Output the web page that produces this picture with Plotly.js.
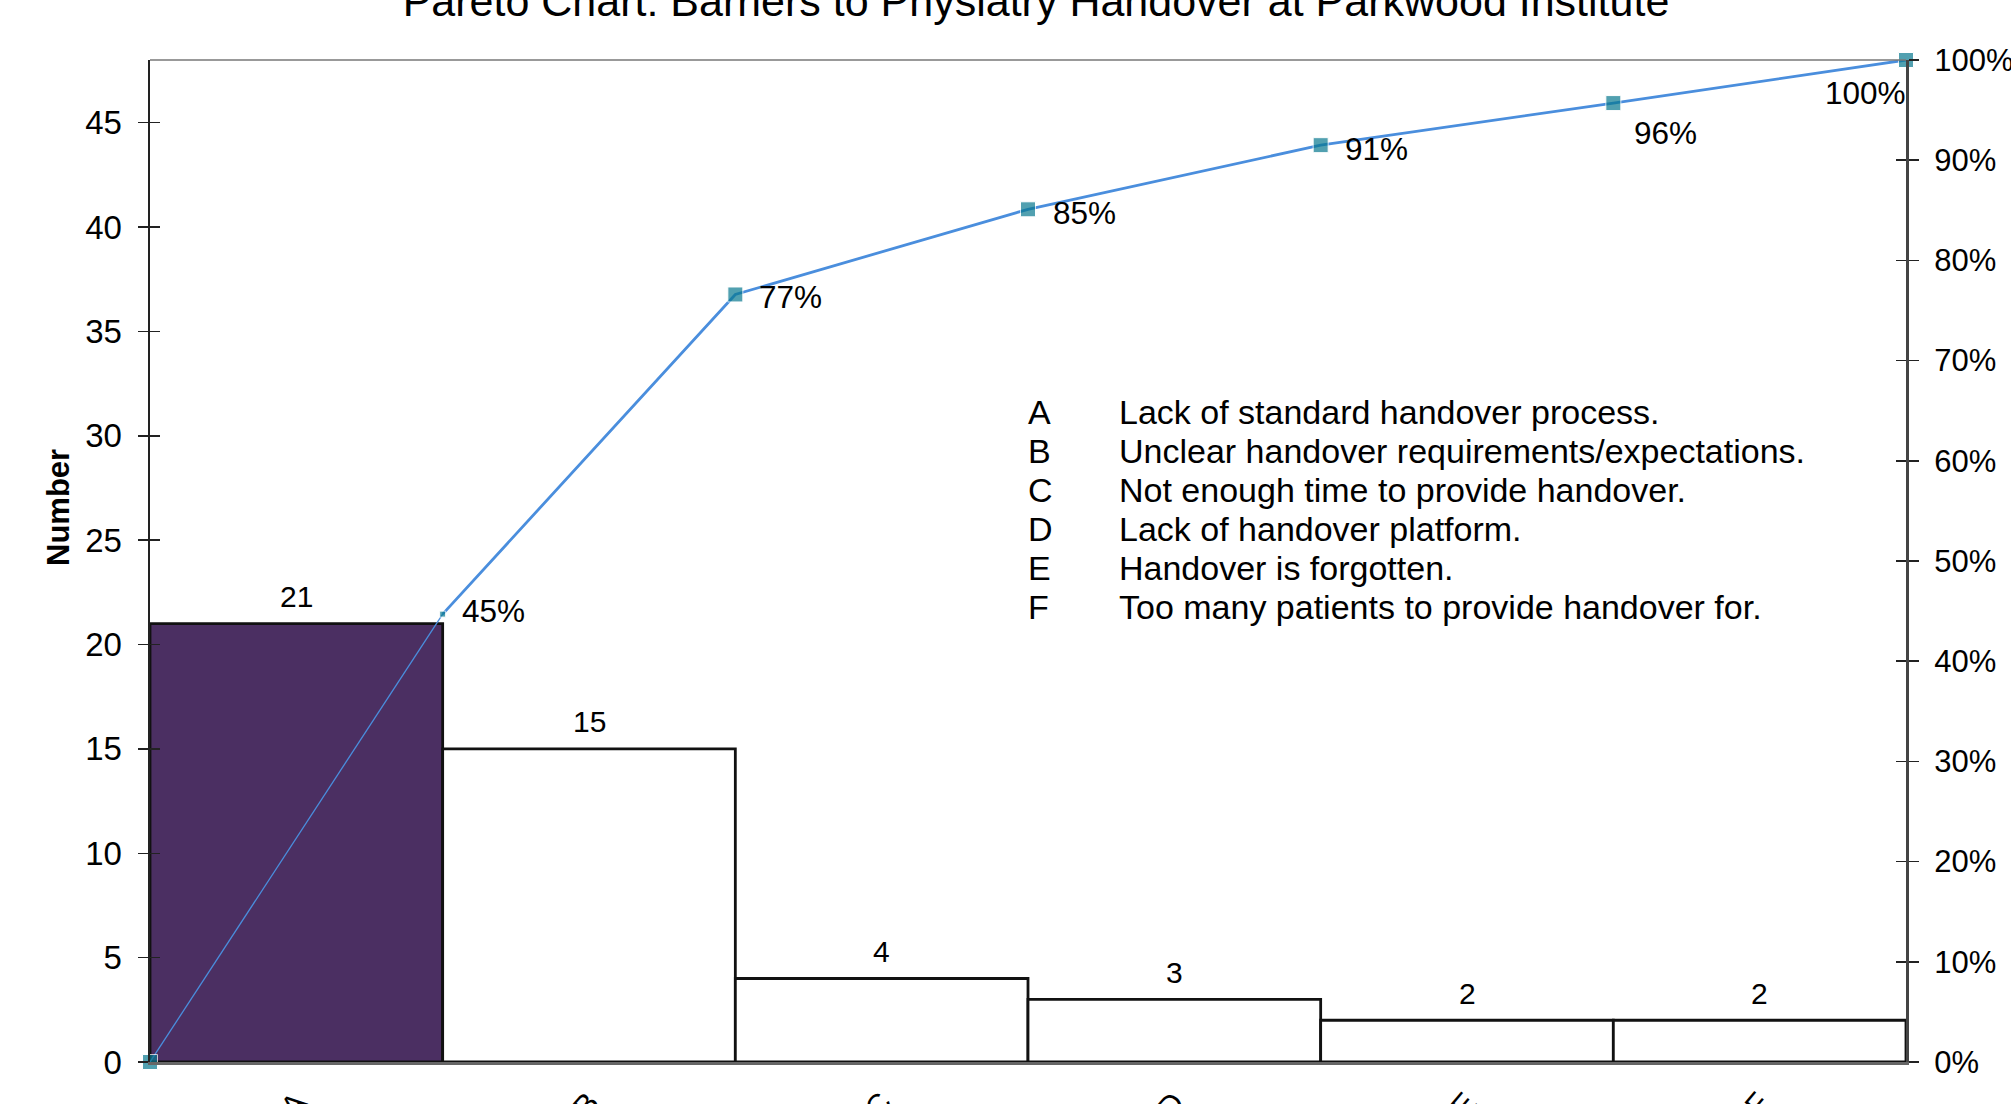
<!DOCTYPE html>
<html>
<head>
<meta charset="utf-8">
<script src="https://cdn.plot.ly/plotly-3.0.1.min.js"></script>
<style>html,body{margin:0;padding:0;background:#fff;}#chart{width:2011px;height:1104px;}</style>
</head>
<body>
<div id="chart"></div>
<script>
// ---- data ----
const categories = ['A', 'B', 'C', 'D', 'E', 'F'];
const counts = [21, 15, 4, 3, 2, 2];
const cumulativePct = [0, 44.7, 76.6, 85.1, 91.5, 95.7, 100];
const cumulativeLabels = ['45%', '77%', '85%', '91%', '96%', '100%'];
const legendLetters = ['A', 'B', 'C', 'D', 'E', 'F'];
const legendTexts = [
  'Lack of standard handover process.',
  'Unclear handover requirements/expectations.',
  'Not enough time to provide handover.',
  'Lack of handover platform.',
  'Handover is forgotten.',
  'Too many patients to provide handover for.'
];
const leftTicks = [0, 5, 10, 15, 20, 25, 30, 35, 40, 45];
const rightTicks = [0, 10, 20, 30, 40, 50, 60, 70, 80, 90, 100];
const rightTickLabels = ['0%', '10%', '20%', '30%', '40%', '50%', '60%', '70%', '80%', '90%', '100%'];
const titleText = 'Pareto Chart: Barriers to Physiatry Handover at Parkwood Institute';
const yTitle = 'Number';

// ---- styles ----
const FONT = 'Liberation Sans, Arial, sans-serif';
const barColors = ['#4B2F62', '#ffffff', '#ffffff', '#ffffff', '#ffffff', '#ffffff'];
const markerSizes = [15, 6, 15, 15, 15, 15, 15];
const pctXShift = [17, 22, 23, 22, 19, 2];
const pctYShift = [3, -3, -4, -4, -30, -33];
const pctAnchor = ['left', 'left', 'left', 'left', 'left', 'right'];
const W = 2011, H = 1104;
const M = {l: 150, r: 105, t: 60, b: 42};
const plotH = H - M.t - M.b;
const plotW = W - M.l - M.r;

const centers = categories.map((c, i) => i + 0.5);
const bounds = cumulativePct.map((v, i) => i);

const traces = [
  {
    type: 'bar', x: centers, y: counts, width: categories.map(() => 1),
    marker: {color: barColors, line: {color: '#111', width: 2.8}},
    hoverinfo: 'skip', showlegend: false
  },
  {
    type: 'scatter', mode: 'lines', x: bounds.slice(0, 2), y: cumulativePct.slice(0, 2),
    yaxis: 'y2', line: {color: '#4A8EDD', width: 1.3}, showlegend: false, cliponaxis: false
  },
  {
    type: 'scatter', mode: 'lines', x: bounds.slice(1), y: cumulativePct.slice(1),
    yaxis: 'y2', line: {color: '#4A8EDD', width: 2.8}, showlegend: false, cliponaxis: false
  },
  {
    type: 'scatter', mode: 'markers', x: bounds, y: cumulativePct,
    yaxis: 'y2', marker: {color: '#08788F', symbol: 'square', size: markerSizes},
    showlegend: false, cliponaxis: false
  },
  {type: 'scatter', mode: 'markers', x: [], y: [], yaxis: 'y3', showlegend: false},
  {type: 'scatter', mode: 'markers', x: [], y: [], yaxis: 'y4', showlegend: false}
];

const annotations = [];
counts.forEach((v, i) => {
  annotations.push({
    x: centers[i], y: v, xref: 'x', yref: 'y', text: String(v), showarrow: false,
    xanchor: 'center', yanchor: 'middle', yshift: 27,
    font: {family: FONT, size: 30, color: '#000'}
  });
});
cumulativeLabels.forEach((t, i) => {
  annotations.push({
    x: bounds[i + 1], y: cumulativePct[i + 1], xref: 'x', yref: 'y2', text: t, showarrow: false,
    xanchor: pctAnchor[i], yanchor: 'middle', xshift: pctXShift[i], yshift: pctYShift[i],
    font: {family: FONT, size: 31.5, color: '#000'}
  });
});
legendLetters.forEach((L, i) => {
  const ypx = 412 + i * 39;
  const yp = (H - M.b - ypx) / plotH;
  annotations.push({
    x: (1026 - M.l) / plotW, y: yp, xref: 'paper', yref: 'paper', text: L, showarrow: false,
    xanchor: 'left', yanchor: 'middle', font: {family: FONT, size: 34, color: '#000'}
  });
  annotations.push({
    x: (1117 - M.l) / plotW, y: yp, xref: 'paper', yref: 'paper', text: legendTexts[i], showarrow: false,
    xanchor: 'left', yanchor: 'middle', font: {family: FONT, size: 34, color: '#000'}
  });
});
// y-axis title (placed off-centre as in the reference)
annotations.push({
  x: (58 - M.l) / plotW, y: (H - M.b - 508) / plotH, xref: 'paper', yref: 'paper',
  text: '<b>' + yTitle + '</b>', textangle: -90, showarrow: false,
  xanchor: 'center', yanchor: 'middle', font: {family: FONT, size: 31, color: '#000'}
});

const layout = {
  width: W, height: H,
  margin: M,
  paper_bgcolor: '#fff', plot_bgcolor: '#fff',
  showlegend: false,
  bargap: 0,
  title: {
    text: titleText, font: {family: FONT, size: 43, color: '#000'},
    xref: 'container', yref: 'container', x: 1036 / W, xanchor: 'center', y: 1 - 1 / H, yanchor: 'middle'
  },
  xaxis: {
    range: [0, 6], tickvals: centers, ticktext: categories, tickangle: -50,
    ticks: '', showgrid: false, zeroline: false,
    showline: true, linecolor: '#666', linewidth: 3,
    tickfont: {family: FONT, size: 31, color: '#000'}, ticklabelstandoff: 7
  },
  yaxis: {
    range: [0, 48], tickvals: leftTicks, ticks: 'outside', ticklen: 10, tickwidth: 1.5, tickcolor: '#222',
    showgrid: false, zeroline: false, showline: true, linecolor: '#222', linewidth: 2.5,
    tickfont: {family: FONT, size: 33, color: '#000'}, ticklabelstandoff: 9
  },
  yaxis2: {
    range: [0, 100], overlaying: 'y', side: 'right', tickvals: rightTicks, ticktext: rightTickLabels,
    ticks: 'outside', ticklen: 10, tickwidth: 1.5, tickcolor: '#222',
    showgrid: false, zeroline: false, showline: true, linecolor: '#444', linewidth: 3,
    tickfont: {family: FONT, size: 31, color: '#000'}, ticklabelstandoff: 9
  },
  yaxis3: {
    range: [0, 48], overlaying: 'y', side: 'left', tickvals: leftTicks, ticks: 'inside', ticklen: 10,
    tickwidth: 1.5, tickcolor: '#222', showticklabels: false, showgrid: false, zeroline: false, showline: false
  },
  yaxis4: {
    range: [0, 100], overlaying: 'y', side: 'right', tickvals: rightTicks, ticks: 'inside', ticklen: 10,
    tickwidth: 1.5, tickcolor: '#222', showticklabels: false, showgrid: false, zeroline: false, showline: false
  },
  shapes: [
    {type: 'line', xref: 'paper', yref: 'paper', x0: 0, x1: 1, y0: 1, y1: 1, line: {color: '#777', width: 1.5}}
  ],
  annotations: annotations
};

Plotly.newPlot('chart', traces, layout, {displayModeBar: false, staticPlot: true});
</script>
</body>
</html>
